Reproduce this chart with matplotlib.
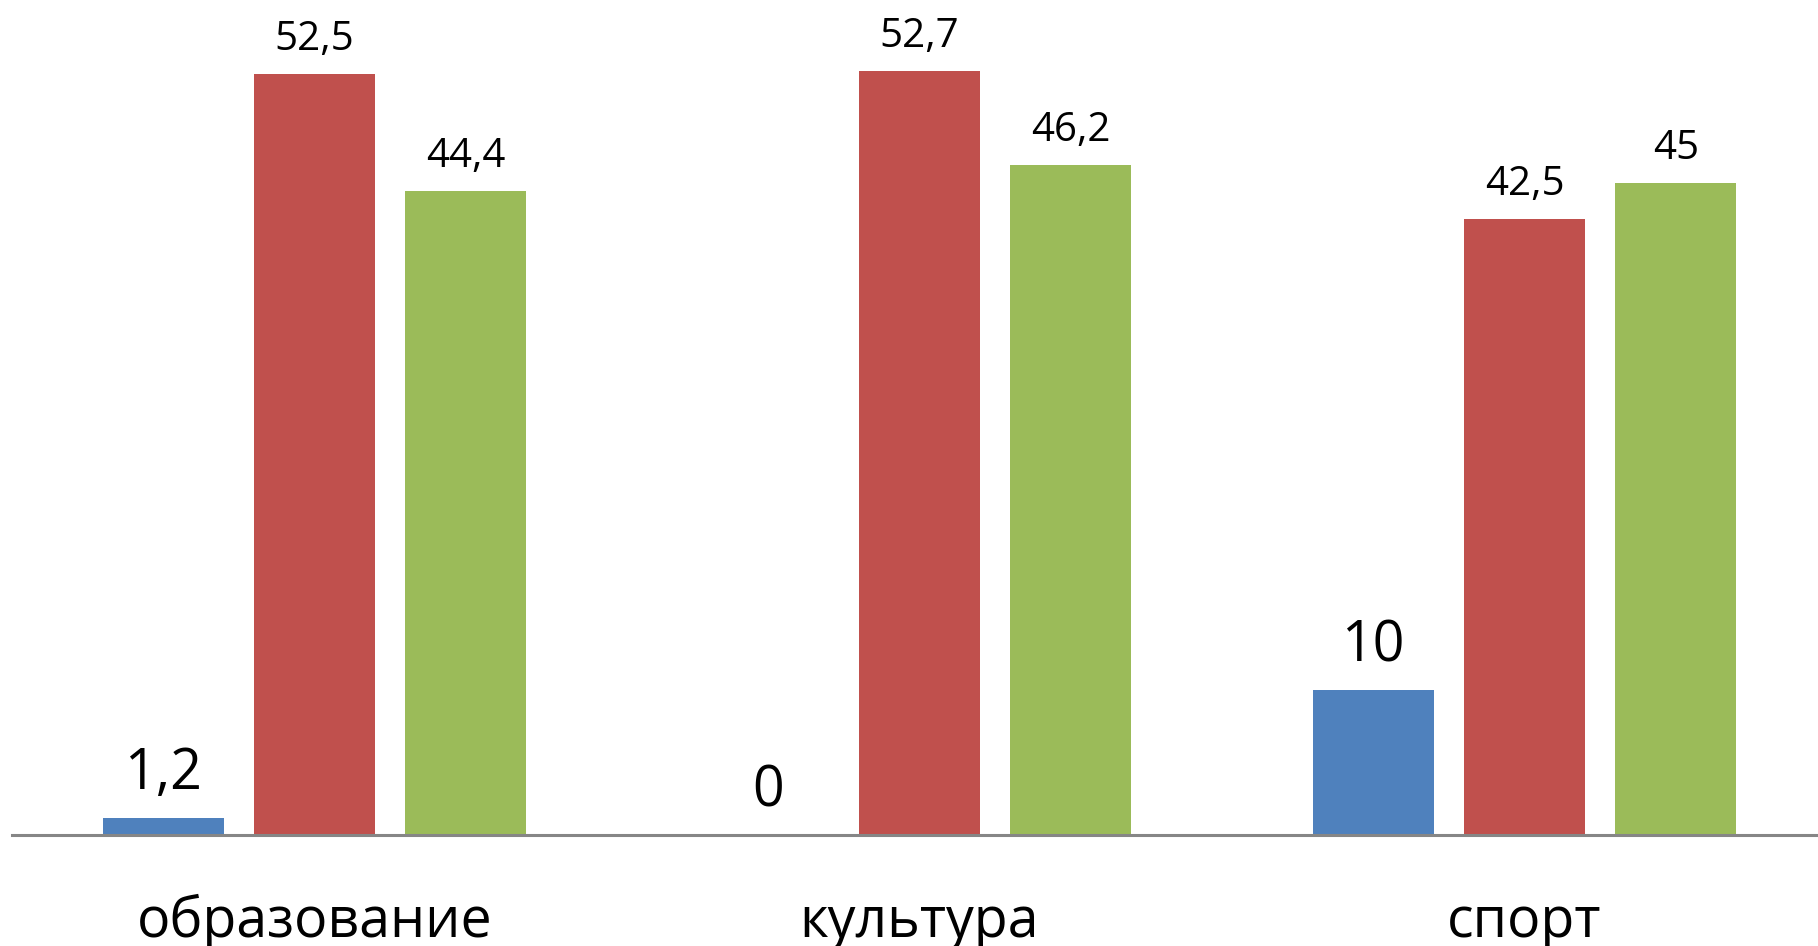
import matplotlib
matplotlib.use("Agg")
import matplotlib.pyplot as plt
import numpy as np

categories = ["образование", "культура", "спорт"]
series_blue = [1.2, 0.0, 10.0]
series_red = [52.5, 52.7, 42.5]
series_green = [44.4, 46.2, 45.0]
label_blue = ["1,2", "0", "10"]
label_red = ["52,5", "52,7", "42,5"]
label_green = ["44,4", "46,2", "45"]

colors = ["#4F81BD", "#C0504D", "#9BBB59"]
FONT = ["Open Sans", "DejaVu Sans"]

W, H, DPI = 1818, 946, 100
fig = plt.figure(figsize=(W / DPI, H / DPI), dpi=DPI)
ax = fig.add_axes([12 / W, 1 - 835 / H, (1827 - 12) / W, 835 / H])

x = np.arange(len(categories))
width = 0.2
step = 0.25
series = [series_blue, series_red, series_green]
labels = [label_blue, label_red, label_green]
for i, (vals, labs, col) in enumerate(zip(series, labels, colors)):
    pos = x + (i - 1) * step
    bars = ax.bar(pos, vals, width=width, color=col, zorder=2)
    big = i == 0
    for b, lab in zip(bars, labs):
        ax.annotate(lab, (b.get_x() + b.get_width() / 2, b.get_height()),
                    xytext=(0, 29 if big else 24), textcoords="offset pixels",
                    ha="center", va="baseline", family=FONT,
                    fontsize=40 if big else 29, color="black")

ax.set_xlim(-0.5, 2.5)
ax.set_ylim(0, 57.6)
ax.set_xticks(x)
ax.set_xticklabels(categories, family=FONT, fontsize=40, va="baseline")
ax.tick_params(axis="x", length=0, pad=73.4)
ax.set_yticks([])
for s in ["top", "left", "right"]:
    ax.spines[s].set_visible(False)
ax.spines["bottom"].set_color("#868686")
ax.spines["bottom"].set_linewidth(2.2)
ax.patch.set_visible(False)

fig.savefig("out.png", dpi=DPI)
